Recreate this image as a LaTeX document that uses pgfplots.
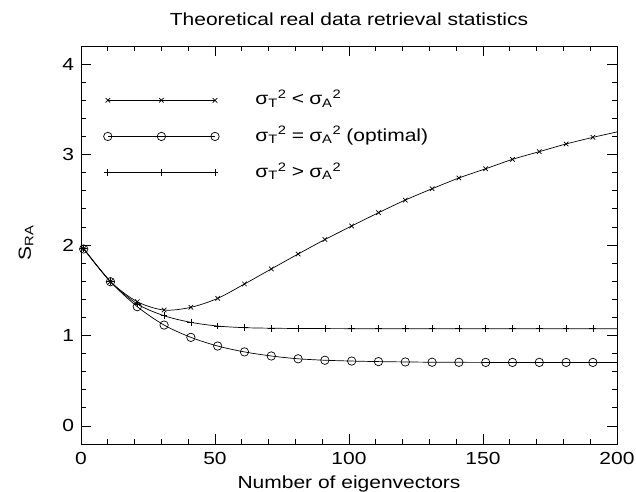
\documentclass[border=0pt]{standalone}
\usepackage{fontspec}
\setmainfont{Liberation Sans}[FakeStretch=1.2]
\usepackage{pgfplots}
\usepackage{pgfplotstable}
\pgfplotsset{compat=1.18}

\pgfplotstableread{
x    lt     eq     gt
1    1.960  1.956  1.960
11   1.595  1.594  1.595
21   1.373  1.318  1.348
31   1.281  1.115  1.218
41   1.311  0.979  1.145
51   1.410  0.883  1.104
61   1.569  0.818  1.086
71   1.735  0.773  1.080
81   1.900  0.742  1.077
91   2.060  0.726  1.076
101  2.210  0.717  1.075
111  2.357  0.711  1.075
121  2.497  0.707  1.075
131  2.622  0.704  1.075
141  2.741  0.703  1.075
151  2.843  0.702  1.075
161  2.947  0.702  1.075
171  3.032  0.702  1.075
181  3.117  0.702  1.075
191  3.190  0.702  1.075
200  3.250  0.702  1.075
}\data

\pgfplotstableread{
x   y
10  3.6
30  3.6
50  3.6
}\legA
\pgfplotstableread{
x   y
10  3.2
30  3.2
50  3.2
}\legB
\pgfplotstableread{
x   y
10  2.8
30  2.8
50  2.8
}\legC

\begin{document}
\fontsize{17.5bp}{21bp}\selectfont
\begin{tikzpicture}
\begin{axis}[
  at={(0,0)}, anchor=south west,
  scale only axis, width=536bp, height=398bp,
  xmin=0, xmax=200, ymin=-0.2, ymax=4.2,
  xtick={0,50,100,150,200}, ytick={0,1,2,3,4},
  minor x tick num=4, minor y tick num=4,
  tick align=inside,
  major tick length=10bp, minor tick length=5bp,
  axis line style={line width=0.9bp},
  every tick/.style={black, line width=0.8bp},
  /pgf/number format/assume math mode=true,
  tick label style={font=\fontsize{17.5bp}{21bp}\selectfont},
  xticklabel style={anchor=base, yshift=-20bp},
  yticklabel style={anchor=east, xshift=-1bp},
  xlabel={Number of eigenvectors},
  xlabel style={at={(axis description cs:0.5,0)}, anchor=base, yshift=-44bp, inner sep=0pt},
  title={Theoretical real data retrieval statistics},
  title style={at={(axis description cs:0.5,1)}, anchor=base, yshift=15bp, inner sep=0pt},
  clip=true,
]
% curves
\addplot[black, line width=0.7bp, smooth, no marks] table[x=x,y=lt]{\data};
\addplot[black, line width=0.7bp, smooth, no marks] table[x=x,y=eq]{\data};
\addplot[black, line width=0.7bp, smooth, no marks] table[x=x,y=gt]{\data};
% markers
\addplot[black, only marks, mark=x, mark size=3.2bp, line width=0.7bp, restrict x to domain=0:195] table[x=x,y=lt]{\data};
\addplot[black, only marks, mark=o, mark size=4.2bp, line width=0.7bp, restrict x to domain=0:195] table[x=x,y=eq]{\data};
\addplot[black, only marks, mark=+, mark size=3.4bp, line width=0.7bp, restrict x to domain=0:195] table[x=x,y=gt]{\data};
% legend drawn in data space
\addplot[black, line width=0.7bp, mark=x, mark size=3.2bp] table[x=x,y=y]{\legA};
\addplot[black, line width=0.7bp, mark=o, mark size=4.2bp] table[x=x,y=y]{\legB};
\addplot[black, line width=0.7bp, mark=+, mark size=3.4bp] table[x=x,y=y]{\legC};
\node[anchor=mid west, inner sep=0pt] at (axis cs:65,3.6) {σ\textsubscript{T}\textsuperscript{2}\hspace{0.3em}<\hspace{0.3em}σ\textsubscript{A}\textsuperscript{2}};
\node[anchor=mid west, inner sep=0pt] at (axis cs:65,3.2) {σ\textsubscript{T}\textsuperscript{2}\hspace{0.3em}=\hspace{0.3em}σ\textsubscript{A}\textsuperscript{2}\hspace{0.3em}(optimal)};
\node[anchor=mid west, inner sep=0pt] at (axis cs:65,2.8) {σ\textsubscript{T}\textsuperscript{2}\hspace{0.3em}>\hspace{0.3em}σ\textsubscript{A}\textsuperscript{2}};
\end{axis}
\node[rotate=90, anchor=center, inner sep=0pt] at (-55bp,201bp) {S\textsubscript{RA}};
\pgfresetboundingbox
\path[use as bounding box] (-81bp,-48bp) rectangle (555bp,444bp);
\end{tikzpicture}
\end{document}
